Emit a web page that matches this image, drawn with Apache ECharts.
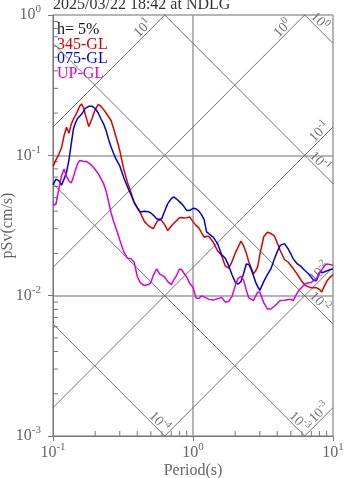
<!DOCTYPE html>
<html>
<head>
<meta charset="utf-8">
<script src="https://cdn.jsdelivr.net/npm/echarts@6/dist/echarts.min.js"></script>
<style>
  html, body { margin: 0; padding: 0; background: #fff; }
  #chart { width: 347px; height: 478px; }
</style>
</head>
<body>
<div id="chart"></div>
<script>
// Pseudo-velocity response spectra (h = 5%), tripartite log-log layout.
const periods = [
  0.10, 0.105, 0.11, 0.115, 0.12, 0.125, 0.13, 0.135, 0.14, 0.145,
  0.15, 0.155, 0.16, 0.165, 0.17, 0.175, 0.18, 0.185, 0.19, 0.195,
  0.20, 0.21, 0.22, 0.23, 0.24, 0.25, 0.26, 0.27, 0.28, 0.29,
  0.30, 0.32, 0.34, 0.36, 0.38, 0.40, 0.42, 0.45, 0.48, 0.50,
  0.52, 0.55, 0.58, 0.60, 0.63, 0.66, 0.70, 0.73, 0.76, 0.80,
  0.83, 0.86, 0.90, 0.95, 1.0, 1.05, 1.1, 1.15, 1.2, 1.25,
  1.3, 1.4, 1.5, 1.6, 1.7, 1.8, 1.9, 2.0, 2.1, 2.2,
  2.3, 2.4, 2.5, 2.6, 2.7, 2.8, 2.9, 3.0, 3.2, 3.4,
  3.6, 3.8, 4.0, 4.2, 4.5, 4.8, 5.0, 5.2, 5.5, 5.8,
  6.0, 6.3, 6.6, 7.0, 7.3, 7.6, 8.0, 8.3, 8.6, 9.0,
  9.5, 10
];

const sv345 = [
  0.0834, 0.0929, 0.1017, 0.1131, 0.1383, 0.1587, 0.1437, 0.1667, 0.1816, 0.1928,
  0.2073, 0.2239, 0.2325, 0.2191, 0.1964, 0.1774, 0.1607, 0.1659, 0.1822, 0.1976,
  0.2111, 0.2302, 0.2239, 0.2118, 0.1995, 0.1876, 0.1771, 0.1566, 0.1386, 0.1225,
  0.1080, 0.0798, 0.0644, 0.0545, 0.0458, 0.0423, 0.0391, 0.0337, 0.0316, 0.0307,
  0.0300, 0.0333, 0.0353, 0.0341, 0.0318, 0.0291, 0.0314, 0.0328, 0.0341, 0.0359,
  0.0361, 0.0358, 0.0359, 0.0363, 0.0337, 0.0317, 0.0304, 0.0281, 0.0261, 0.0265,
  0.0264, 0.0239, 0.0208, 0.0193, 0.0163, 0.0157, 0.0175, 0.0200, 0.0222, 0.0245,
  0.0226, 0.0202, 0.0175, 0.0158, 0.0143, 0.0150, 0.0161, 0.0195, 0.0263, 0.0283,
  0.0277, 0.0268, 0.0237, 0.0210, 0.0181, 0.0173, 0.0164, 0.0156, 0.0144, 0.0133,
  0.0126, 0.0119, 0.0116, 0.0114, 0.0114, 0.0114, 0.0111, 0.0106, 0.0115, 0.0126,
  0.0135, 0.0141
];

const sv075 = [
  0.0616, 0.0676, 0.0660, 0.0613, 0.0679, 0.0759, 0.0926, 0.1208, 0.1546, 0.1711,
  0.1837, 0.1890, 0.1964, 0.2056, 0.2164, 0.2216, 0.2236, 0.2254, 0.2239, 0.2206,
  0.2157, 0.2010, 0.1822, 0.1670, 0.1488, 0.1291, 0.1146, 0.1039, 0.0955, 0.0895,
  0.0840, 0.0696, 0.0597, 0.0526, 0.0465, 0.0423, 0.0394, 0.0399, 0.0396, 0.0388,
  0.0375, 0.0353, 0.0346, 0.0357, 0.0404, 0.0453, 0.0491, 0.0505, 0.0490, 0.0468,
  0.0451, 0.0433, 0.0405, 0.0406, 0.0419, 0.0416, 0.0401, 0.0378, 0.0350, 0.0285,
  0.0276, 0.0260, 0.0234, 0.0196, 0.0185, 0.0163, 0.0141, 0.0125, 0.0121, 0.0126,
  0.0144, 0.0168, 0.0167, 0.0155, 0.0139, 0.0125, 0.0116, 0.0109, 0.0126, 0.0141,
  0.0155, 0.0181, 0.0206, 0.0228, 0.0235, 0.0214, 0.0198, 0.0183, 0.0170, 0.0164,
  0.0159, 0.0151, 0.0145, 0.0135, 0.0128, 0.0128, 0.0147, 0.0147, 0.0147, 0.0150,
  0.0153, 0.0155
];

const svUP = [
  0.0439, 0.0450, 0.0576, 0.0715, 0.0798, 0.0705, 0.0657, 0.0635, 0.0702, 0.0794,
  0.0872, 0.0920, 0.0933, 0.0906, 0.0902, 0.0899, 0.0890, 0.0865, 0.0843, 0.0819,
  0.0793, 0.0743, 0.0683, 0.0628, 0.0552, 0.0463, 0.0389, 0.0342, 0.0307, 0.0277,
  0.0249, 0.0206, 0.0185, 0.0183, 0.0173, 0.0137, 0.0124, 0.0118, 0.0120, 0.0124,
  0.0139, 0.0155, 0.0142, 0.0140, 0.0135, 0.0126, 0.0120, 0.0130, 0.0138, 0.0155,
  0.0153, 0.0145, 0.0136, 0.0122, 0.0115, 0.00964, 0.00955, 0.00997, 0.00980, 0.00960,
  0.00941, 0.00930, 0.00952, 0.00972, 0.00899, 0.00912, 0.00989, 0.0117, 0.0133, 0.0137,
  0.0129, 0.0110, 0.00968, 0.00944, 0.00924, 0.00993, 0.0106, 0.0106, 0.00893, 0.00805,
  0.00803, 0.00840, 0.00878, 0.00923, 0.00926, 0.00939, 0.00939, 0.00923, 0.0103, 0.0111,
  0.0115, 0.0121, 0.0123, 0.0124, 0.0129, 0.0131, 0.0144, 0.0153, 0.0161, 0.0168,
  0.0167, 0.0164
];

// Guide lines of constant pseudo-acceleration (cm/s^2) and displacement (cm)
const accelLevels = [10, 1, 0.1, 0.01, 0.001];
const dispLevels = [1, 0.1, 0.01, 0.001, 0.0001];

// Minor tick positions along the two log axes
const minorTicksX = [0.2, 0.3, 0.4, 0.5, 0.6, 0.7, 0.8, 0.9, 2, 3, 4, 5, 6, 7, 8, 9];
const minorTicksY = [
  0.002, 0.003, 0.004, 0.005, 0.006, 0.007, 0.008, 0.009,
  0.02, 0.03, 0.04, 0.05, 0.06, 0.07, 0.08, 0.09,
  0.2, 0.3, 0.4, 0.5, 0.6, 0.7, 0.8, 0.9
];

const seriesInfo = [
  { name: '345-GL', values: sv345, color: '#dd0000' },
  { name: '075-GL', values: sv075, color: '#0000dd' },
  { name: 'UP-GL', values: svUP, color: '#dd00dd' }
];

const X_MIN = 0.1, X_MAX = 10, Y_MIN = 0.001, Y_MAX = 1;
const TWO_PI = 2 * Math.PI;
const SERIF = '"Liberation Serif", "Times New Roman", serif';
const GRAY = '#666';
const GUIDE = '#737373';

function powLabel(v) {
  const e = Math.round(Math.log10(v));
  return '{b|10}{s|' + e + '}';
}

const axisRich = {
  b: { fontFamily: SERIF, fontSize: 16, color: GRAY, lineHeight: 22 },
  s: { fontFamily: SERIF, fontSize: 11, color: GRAY, lineHeight: 8, verticalAlign: 'top' }
};
const guideRich = {
  b: { fontFamily: SERIF, fontSize: 14, fill: GUIDE, lineHeight: 19 },
  s: { fontFamily: SERIF, fontSize: 10, fill: GUIDE, lineHeight: 7, verticalAlign: 'top' }
};

function guideLine(fn) {
  return {
    type: 'line',
    data: [[X_MIN, fn(X_MIN)], [X_MAX, fn(X_MAX)]],
    symbol: 'none',
    silent: true,
    clip: true,
    lineStyle: { color: GUIDE, width: 1 },
    z: 1,
    animation: false
  };
}

const guideSeries = []
  .concat(accelLevels.map(a => guideLine(T => a * T / TWO_PI)))
  .concat(dispLevels.map(d => guideLine(T => TWO_PI * d / T)));

const guideLabels = accelLevels.map(a => ({ kind: 'acc', level: a }))
  .concat(dispLevels.map(d => ({ kind: 'disp', level: d })));

// Each guide label sits just inside the edge where its line leaves the plot
function renderGuideLabel(params, api) {
  const g = guideLabels[params.dataIndex];
  let tEnd, svEnd, back, dir, nrm, rot;
  if (g.kind === 'acc') {
    tEnd = Math.min(X_MAX, TWO_PI * Y_MAX / g.level);
    svEnd = g.level * tEnd / TWO_PI;
    back = tEnd < X_MAX ? 25 : 13;
    dir = [1, -1]; nrm = [-1, -1]; rot = Math.PI / 4;
  } else {
    tEnd = Math.min(X_MAX, TWO_PI * g.level / Y_MIN);
    svEnd = TWO_PI * g.level / tEnd;
    back = tEnd < X_MAX ? 14 : 25;
    dir = [1, 1]; nrm = [1, -1]; rot = -Math.PI / 4;
  }
  const p = api.coord([tEnd, svEnd]);
  const k = Math.SQRT1_2, off = 6;
  return {
    type: 'text',
    x: p[0] - dir[0] * k * back + nrm[0] * k * off,
    y: p[1] - dir[1] * k * back + nrm[1] * k * off,
    rotation: rot,
    style: {
      text: powLabel(g.level),
      rich: guideRich,
      fill: GUIDE,
      align: 'center',
      verticalAlign: 'middle'
    }
  };
}

function tickSeries(values, vertical) {
  return {
    type: 'custom',
    coordinateSystem: 'cartesian2d',
    silent: true,
    clip: false,
    animation: false,
    z: 3,
    data: values.map(v => vertical ? [v, Y_MIN] : [X_MIN, v]),
    renderItem: (params, api) => {
      const p = api.coord([api.value(0), api.value(1)]);
      const shape = vertical
        ? { x1: p[0], y1: p[1], x2: p[0], y2: p[1] - 5 }
        : { x1: p[0], y1: p[1], x2: p[0] + 5, y2: p[1] };
      return { type: 'line', shape, style: { stroke: '#777', lineWidth: 1 } };
    }
  };
}

const dataSeries = seriesInfo.map(s => ({
  type: 'line',
  name: s.name,
  data: periods.map((t, i) => [t, s.values[i]]),
  symbol: 'none',
  clip: true,
  z: 5,
  lineStyle: { color: s.color, width: 1.5 },
  itemStyle: { color: s.color },
  animation: false
}));

const legendLines = [{ text: 'h= 5%', color: '#111' }]
  .concat(seriesInfo.map(s => ({ text: s.name, color: s.color })));

const chart = echarts.init(document.getElementById('chart'), null, { renderer: 'canvas' });

chart.setOption({
  animation: false,
  backgroundColor: '#fff',
  grid: { left: 53, top: 15, width: 280, height: 421, containLabel: false, outerBoundsMode: 'none' },
  xAxis: {
    type: 'log', logBase: 10, min: X_MIN, max: X_MAX,
    axisLine: { show: true, lineStyle: { color: '#777', width: 1 } },
    axisTick: { show: true, inside: false, length: 5, lineStyle: { color: '#777' } },
    axisLabel: { formatter: powLabel, margin: 6, rich: axisRich },
    splitLine: { show: true, lineStyle: { color: '#9d9d9d', width: 1.5 } },
    name: 'Period(s)', nameLocation: 'middle', nameGap: 27, nameMoveOverlap: false,
    nameTextStyle: { fontFamily: SERIF, fontSize: 16, color: GRAY }
  },
  yAxis: {
    type: 'log', logBase: 10, min: Y_MIN, max: Y_MAX,
    axisLine: { show: true, lineStyle: { color: '#777', width: 1 } },
    axisTick: { show: true, inside: false, length: 5, lineStyle: { color: '#777' } },
    axisLabel: { formatter: powLabel, margin: 12, rich: axisRich },
    splitLine: { show: true, lineStyle: { color: '#9d9d9d', width: 1.5 } },
    name: 'pSv(cm/s)', nameLocation: 'middle', nameGap: 37, nameMoveOverlap: false,
    nameTextStyle: { fontFamily: SERIF, fontSize: 16, color: GRAY }
  },
  graphic: [
    {
      type: 'text', x: 53, y: 5,
      style: { text: '2025/03/22 18:42 at NDLG', font: '16px ' + SERIF, fill: '#333', verticalAlign: 'middle' }
    }
  ].concat(legendLines.map((l, i) => ({
    type: 'text', x: 57, y: 30 + i * 14.5,
    style: { text: l.text, font: '16px ' + SERIF, fill: l.color, verticalAlign: 'middle' }
  }))),
  series: guideSeries
    .concat([{
      type: 'custom',
      coordinateSystem: 'cartesian2d',
      silent: true,
      clip: false,
      animation: false,
      z: 2,
      data: guideLabels.map(g => [g.level, g.kind === 'acc' ? 1 : 2]),
      renderItem: renderGuideLabel
    }])
    .concat([tickSeries(minorTicksX, true), tickSeries(minorTicksY, false)])
    .concat(dataSeries)
});
</script>
</body>
</html>
